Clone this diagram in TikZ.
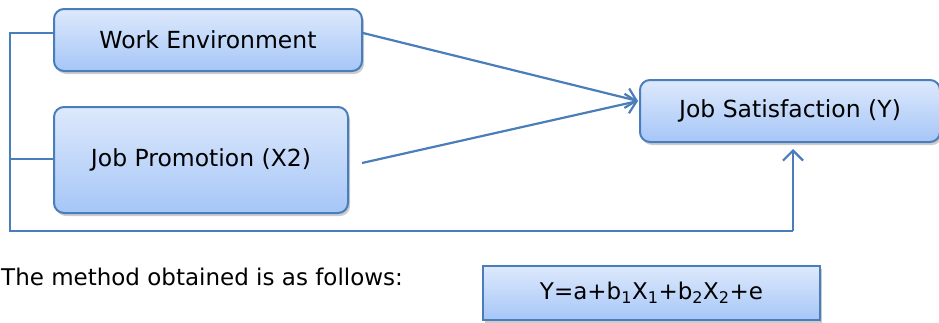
\documentclass[tikz,border=0pt]{standalone}
\usepackage{fontspec}
\setmainfont{DejaVu Sans}
\usetikzlibrary{arrows.meta,shadows}
\definecolor{bordc}{HTML}{4A7EBB}
\definecolor{topc}{HTML}{DDE9FC}
\definecolor{botc}{HTML}{A6C6F7}
\tikzset{
  box/.style={draw=bordc, line width=2pt, rounded corners=10pt, top color=topc, bottom color=botc,
    drop shadow={shadow xshift=2pt, shadow yshift=-3pt, opacity=0.4}, font=\fontsize{23.5}{27}\selectfont, text=black},
  eqbox/.style={draw=bordc, line width=2pt, top color=topc, bottom color=botc,
    drop shadow={shadow xshift=2pt, shadow yshift=-3pt, opacity=0.4}, font=\fontsize{23}{27}\selectfont, text=black},
  conn/.style={draw=bordc, line width=2.2pt},
  arr/.style={conn, -{Straight Barb[length=10pt,width=20pt,line width=2.2pt]}}
}
\begin{document}
\begin{tikzpicture}[x=1pt,y=-1pt]
\useasboundingbox (0,0) rectangle (939,322);
\node[box, minimum width=308pt, minimum height=62pt] (we) at (208,40) {Work Environment};
\node[box, minimum width=294pt, minimum height=106pt] (jp) at (201,160) {Job Promotion (X2)};
\node[box, minimum width=300pt, minimum height=62pt] (js) at (790,111) {Job Satisfaction (Y)};
\node[eqbox, minimum width=337pt, minimum height=54pt] (eq) at (651.5,293) {Y=a+b\textsubscript{1}X\textsubscript{1}+b\textsubscript{2}X\textsubscript{2}+e};
\node[anchor=west, font=\fontsize{23}{27}\selectfont, inner sep=0pt] (txt) at (1,277) {The method obtained is as follows:};
\coordinate (c1) at (10,33);
\coordinate (c2) at (10,231);
\coordinate (c3) at (793,231);
\coordinate (c4) at (10,159);
\draw[conn] (we.west |- c1) -- (c1) -- (c2) -- (c3);
\draw[conn] (c4) -- (jp.west |- c4);
\draw[arr] (c3) -- (793,149);
\draw[arr] (we.east |- c1) -- (638,101);
\draw[arr] (362,163) -- (638,101);
\end{tikzpicture}
\end{document}
